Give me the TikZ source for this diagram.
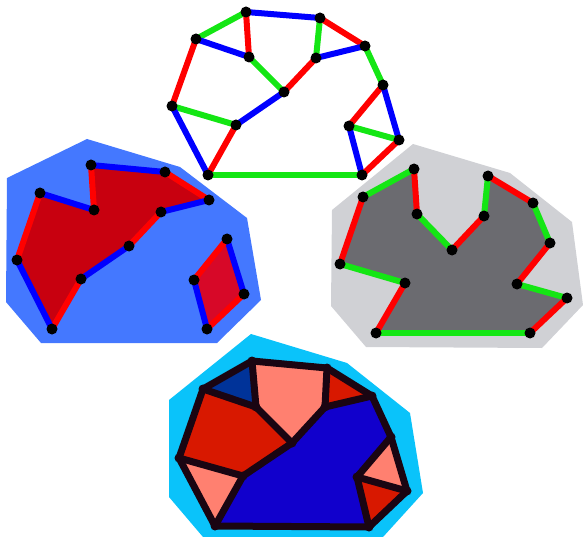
\documentclass[tikz,border=0pt]{standalone}
\definecolor{lred}{RGB}{255,0,0}
\definecolor{lblue}{RGB}{0,0,255}
\definecolor{lgreen}{RGB}{20,230,20}
\definecolor{bgblue}{RGB}{68,120,255}
\definecolor{fillred}{RGB}{200,0,15}
\definecolor{fillred2}{RGB}{215,8,40}
\definecolor{bggray}{RGB}{208,209,213}
\definecolor{fillgray}{RGB}{107,107,112}
\definecolor{bgcyan}{RGB}{10,195,250}
\definecolor{salmon}{RGB}{255,128,112}
\definecolor{pred}{RGB}{216,24,0}
\definecolor{dblue}{RGB}{0,51,153}
\definecolor{pblue}{RGB}{17,0,204}
\definecolor{eblack}{RGB}{26,5,18}
\begin{document}
\begin{tikzpicture}[x=1pt,y=-1pt,
  vtx/.style={circle,fill=black,inner sep=0pt,minimum size=11pt},
  bvtx/.style={circle,fill=eblack,inner sep=0pt,minimum size=9pt},
  er/.style={draw=lred,line width=6pt},
  eb/.style={draw=lblue,line width=6pt},
  eg/.style={draw=lgreen,line width=6pt},
  ek/.style={draw=eblack,line width=7pt,line cap=round}]
\useasboundingbox (0,0) rectangle (583,537);
% ---------- backgrounds
\fill[bgblue] (87,139) -- (180,167) -- (247,218) -- (261,300) -- (217,343) -- (41,343) -- (6,302) -- (7,178) -- cycle;
\fill[bggray] (413,144) -- (510,173) -- (572,222) -- (583,305) -- (542,348) -- (366,347) -- (331,306) -- (332,210) -- cycle;
\fill[bgcyan] (251,334) -- (347,363) -- (410,413) -- (423,493) -- (383,537) -- (203,537) -- (169,497) -- (169,400) -- cycle;
% ---------- top graph coordinates
\coordinate (A) at (246,12);
\coordinate (B) at (320,18);
\coordinate (C) at (196,39);
\coordinate (D) at (249,57);
\coordinate (E) at (365,46);
\coordinate (F) at (316,58);
\coordinate (G) at (284,92);
\coordinate (H) at (383,85);
\coordinate (I) at (172,106);
\coordinate (J) at (236,125);
\coordinate (K) at (349,126);
\coordinate (L) at (399,140);
\coordinate (M) at (208,175);
\coordinate (N) at (362,175);
% ---------- left coordinates
\coordinate (P1) at (91,165);
\coordinate (P2) at (165,172);
\coordinate (P3) at (209,200);
\coordinate (P4) at (161,212);
\coordinate (P5) at (129,246);
\coordinate (P6) at (81,279);
\coordinate (P7) at (52,329);
\coordinate (P8) at (17,260);
\coordinate (P9) at (40,193);
\coordinate (P10) at (94,210);
\coordinate (Q1) at (227,239);
\coordinate (Q2) at (244,294);
\coordinate (Q3) at (207,329);
\coordinate (Q4) at (194,280);
% ---------- right coordinates
\coordinate (R1) at (414,169);
\coordinate (R2) at (417,214);
\coordinate (R3) at (452,250);
\coordinate (R4) at (484,216);
\coordinate (R5) at (488,176);
\coordinate (R6) at (533,203);
\coordinate (R7) at (550,243);
\coordinate (R8) at (517,284);
\coordinate (R9) at (567,298);
\coordinate (R10) at (530,333);
\coordinate (R11) at (376,333);
\coordinate (R12) at (405,283);
\coordinate (R13) at (340,264);
\coordinate (R14) at (363,197);
% ---------- bottom coordinates
\coordinate (S1) at (252,361);
\coordinate (S2) at (327,368);
\coordinate (S3) at (372,396);
\coordinate (S4) at (391,437);
\coordinate (S5) at (407,491);
\coordinate (S6) at (369,527);
\coordinate (S7) at (215,526);
\coordinate (S8) at (179,458);
\coordinate (S9) at (203,389);
\coordinate (S10) at (256,407);
\coordinate (S11) at (292,443);
\coordinate (S12) at (325,407);
\coordinate (S13) at (243,476);
\coordinate (S14) at (357,477);
% ---------- fills
\fill[fillred] (P1) -- (P2) -- (P3) -- (P4) -- (P5) -- (P6) -- (P7) -- (P8) -- (P9) -- (P10) -- cycle;
\fill[fillred2] (Q1) -- (Q2) -- (Q3) -- (Q4) -- cycle;
\fill[fillgray] (R1) -- (R2) -- (R3) -- (R4) -- (R5) -- (R6) -- (R7) -- (R8) -- (R9) -- (R10) -- (R11) -- (R12) -- (R13) -- (R14) -- cycle;
\fill[dblue] (S9) -- (S1) -- (S10) -- cycle;
\fill[salmon] (S1) -- (S2) -- (S12) -- (S11) -- (S10) -- cycle;
\fill[pred] (S2) -- (S3) -- (S12) -- cycle;
\fill[pred] (S9) -- (S10) -- (S11) -- (S13) -- (S8) -- cycle;
\fill[salmon] (S8) -- (S13) -- (S7) -- cycle;
\fill[pblue] (S13) -- (S11) -- (S12) -- (S3) -- (S4) -- (S14) -- (S6) -- (S7) -- cycle;
\fill[salmon] (S4) -- (S5) -- (S14) -- cycle;
\fill[pred] (S14) -- (S5) -- (S6) -- cycle;
% ---------- top graph edges
\draw[eg] (C) -- (A);
\draw[eb] (A) -- (B);
\draw[er] (A) -- (D);
\draw[eb] (C) -- (D);
\draw[eg] (B) -- (F);
\draw[er] (B) -- (E);
\draw[eb] (F) -- (E);
\draw[eg] (E) -- (H);
\draw[eg] (D) -- (G);
\draw[er] (F) -- (G);
\draw[eb] (G) -- (J);
\draw[er] (C) -- (I);
\draw[eg] (I) -- (J);
\draw[eb] (I) -- (M);
\draw[er] (J) -- (M);
\draw[eg] (M) -- (N);
\draw[er] (H) -- (K);
\draw[eb] (H) -- (L);
\draw[eg] (K) -- (L);
\draw[eb] (K) -- (N);
\draw[er] (L) -- (N);
% ---------- left edges
\draw[eb] (P1) -- (P2);
\draw[er] (P2) -- (P3);
\draw[eb] (P3) -- (P4);
\draw[er] (P4) -- (P5);
\draw[eb] (P5) -- (P6);
\draw[er] (P6) -- (P7);
\draw[eb] (P7) -- (P8);
\draw[er] (P8) -- (P9);
\draw[eb] (P9) -- (P10);
\draw[er] (P10) -- (P1);
\draw[eb] (Q1) -- (Q2);
\draw[er] (Q2) -- (Q3);
\draw[eb] (Q3) -- (Q4);
\draw[er] (Q4) -- (Q1);
% ---------- right edges
\draw[er] (R1) -- (R2);
\draw[eg] (R2) -- (R3);
\draw[er] (R3) -- (R4);
\draw[eg] (R4) -- (R5);
\draw[er] (R5) -- (R6);
\draw[eg] (R6) -- (R7);
\draw[er] (R7) -- (R8);
\draw[eg] (R8) -- (R9);
\draw[er] (R9) -- (R10);
\draw[eg] (R10) -- (R11);
\draw[er] (R11) -- (R12);
\draw[eg] (R12) -- (R13);
\draw[er] (R13) -- (R14);
\draw[eg] (R14) -- (R1);
% ---------- bottom edges
\draw[ek] (S1) -- (S2);
\draw[ek] (S2) -- (S3);
\draw[ek] (S3) -- (S4);
\draw[ek] (S4) -- (S5);
\draw[ek] (S5) -- (S6);
\draw[ek] (S6) -- (S7);
\draw[ek] (S7) -- (S8);
\draw[ek] (S8) -- (S9);
\draw[ek] (S9) -- (S1);
\draw[ek] (S1) -- (S10);
\draw[ek] (S9) -- (S10);
\draw[ek] (S10) -- (S11);
\draw[ek] (S11) -- (S12);
\draw[ek] (S12) -- (S2);
\draw[ek] (S12) -- (S3);
\draw[ek] (S11) -- (S13);
\draw[ek] (S13) -- (S8);
\draw[ek] (S13) -- (S7);
\draw[ek] (S4) -- (S14);
\draw[ek] (S14) -- (S5);
\draw[ek] (S14) -- (S6);
% ---------- vertex dots
\foreach \v in {A,B,C,D,E,F,G,H,I,J,K,L,M,N,P1,P2,P3,P4,P5,P6,P7,P8,P9,P10,Q1,Q2,Q3,Q4,R1,R2,R3,R4,R5,R6,R7,R8,R9,R10,R11,R12,R13,R14}
  \node[vtx] (d\v) at (\v) {};
\foreach \v in {S1,S2,S3,S4,S5,S6,S7,S8,S9,S10,S11,S12,S13,S14}
  \node[bvtx] (d\v) at (\v) {};
\end{tikzpicture}
\end{document}
